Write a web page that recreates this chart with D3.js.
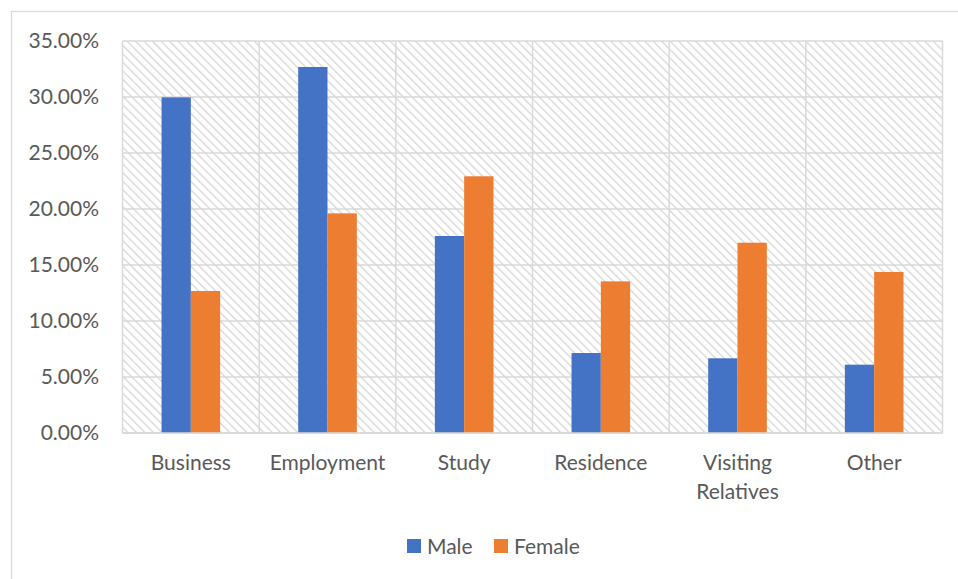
<!DOCTYPE html>
<html>
<head>
<meta charset="utf-8">
<script src="https://cdn.jsdelivr.net/npm/d3@7"></script>
<style>
  html, body { margin: 0; padding: 0; background: #fff; }
  svg { display: block; }
  text { font-family: Lato, "Open Sans", sans-serif; fill: #595959; }
</style>
</head>
<body>
<svg id="chart" width="958" height="579"></svg>
<script>
// Purpose of visit, share by gender
const categories = ["Business", "Employment", "Study", "Residence", "Visiting Relatives", "Other"];
const seriesNames = ["Male", "Female"];
const maleValues = [0.2997, 0.3268, 0.1759, 0.0714, 0.0667, 0.0610];
const femaleValues = [0.1268, 0.1961, 0.2292, 0.1354, 0.1699, 0.1438];
const yTicks = [0, 0.05, 0.10, 0.15, 0.20, 0.25, 0.30, 0.35];
const colors = ["#4472C4", "#ED7D31"];

const svg = d3.select("#chart");
const W = 958, H = 579;
const plot = { left: 122.5, right: 942.5, top: 41, bottom: 433 };
const FONT = 21;

// outer chart frame
svg.append("rect")
  .attr("x", 11.5).attr("y", 11.5)
  .attr("width", W + 10).attr("height", H + 10)
  .attr("fill", "#fff").attr("stroke", "#d9d9d9").attr("stroke-width", 1.3);

// diagonal hatch for the plot area
const defs = svg.append("defs");
const pat = defs.append("pattern")
  .attr("id", "hatch").attr("patternUnits", "userSpaceOnUse")
  .attr("width", 6).attr("height", 6)
  .attr("patternTransform", "rotate(-45)");
pat.append("rect").attr("width", 6).attr("height", 6).attr("fill", "#fff");
pat.append("line").attr("x1", 0).attr("y1", 0).attr("x2", 0).attr("y2", 6)
  .attr("stroke", "#d6d6d6").attr("stroke-width", 2.6);

const x0 = d3.scaleBand().domain(categories).range([plot.left, plot.right]).paddingInner(0).paddingOuter(0);
const innerW = x0.bandwidth() * 0.429;
const x1 = d3.scaleBand().domain(seriesNames)
  .range([(x0.bandwidth() - innerW) / 2, (x0.bandwidth() + innerW) / 2]).padding(0);
const y = d3.scaleLinear().domain([0, 0.35]).range([plot.bottom, plot.top]);

svg.append("rect")
  .attr("x", plot.left).attr("y", plot.top)
  .attr("width", plot.right - plot.left).attr("height", plot.bottom - plot.top)
  .attr("fill", "url(#hatch)");

// gridlines
const grid = svg.append("g").attr("stroke", "#d9d9d9").attr("stroke-width", 1.5);
yTicks.forEach(t => {
  grid.append("line").attr("x1", plot.left).attr("x2", plot.right)
    .attr("y1", y(t)).attr("y2", y(t));
});
const vlines = categories.map(c => x0(c)).concat([plot.right]);
vlines.forEach(v => {
  grid.append("line").attr("x1", v).attr("x2", v)
    .attr("y1", plot.top).attr("y2", plot.bottom);
});

// y axis labels
const yAxis = d3.axisLeft(y).tickValues(yTicks).tickSize(0).tickPadding(0)
  .tickFormat(d => (d * 100).toFixed(2) + "%");
svg.append("g").attr("transform", `translate(99,0)`).call(yAxis)
  .call(g => g.select(".domain").remove())
  .call(g => g.selectAll("text").attr("font-size", FONT).attr("font-family", "Lato, sans-serif").attr("fill", "#595959"));

// bars
const rows = categories.map((c, i) => ({ cat: c, vals: [maleValues[i], femaleValues[i]] }));
const groups = svg.append("g").selectAll("g").data(rows).join("g")
  .attr("transform", d => `translate(${x0(d.cat)},0)`);
groups.selectAll("rect").data(d => d.vals.map((v, k) => ({ v, k })))
  .join("rect")
  .attr("x", d => x1(seriesNames[d.k]))
  .attr("width", x1.bandwidth())
  .attr("y", d => y(d.v))
  .attr("height", d => y(0) - y(d.v))
  .attr("fill", d => colors[d.k]);

// baseline
svg.append("line").attr("x1", plot.left).attr("x2", plot.right)
  .attr("y1", plot.bottom).attr("y2", plot.bottom)
  .attr("stroke", "#d9d9d9").attr("stroke-width", 1.6);

// category labels
const xAxis = d3.axisBottom(x0).tickSize(0).tickPadding(0);
const xg = svg.append("g").attr("transform", `translate(0,${plot.bottom})`).call(xAxis);
xg.select(".domain").remove();
xg.selectAll("text").each(function(d) {
  const t = d3.select(this);
  t.text(null).attr("y", 0).attr("dy", null)
    .attr("font-size", FONT).attr("font-family", "Lato, sans-serif").attr("fill", "#595959");
  const words = d === "Visiting Relatives" ? ["Visiting", "Relatives"] : [d];
  words.forEach((w, i) => {
    t.append("tspan").attr("x", 0).attr("y", 37 + i * 29).text(w);
  });
});

// legend
const legend = svg.append("g").attr("transform", "translate(407,539)");
const legendX = [0, 87];
seriesNames.forEach((s, i) => {
  const g = legend.append("g").attr("transform", `translate(${legendX[i]},0)`);
  g.append("rect").attr("width", 14).attr("height", 14).attr("fill", colors[i]);
  g.append("text").attr("x", 20).attr("y", 14.5).attr("font-size", FONT).text(s);
});
</script>
</body>
</html>
